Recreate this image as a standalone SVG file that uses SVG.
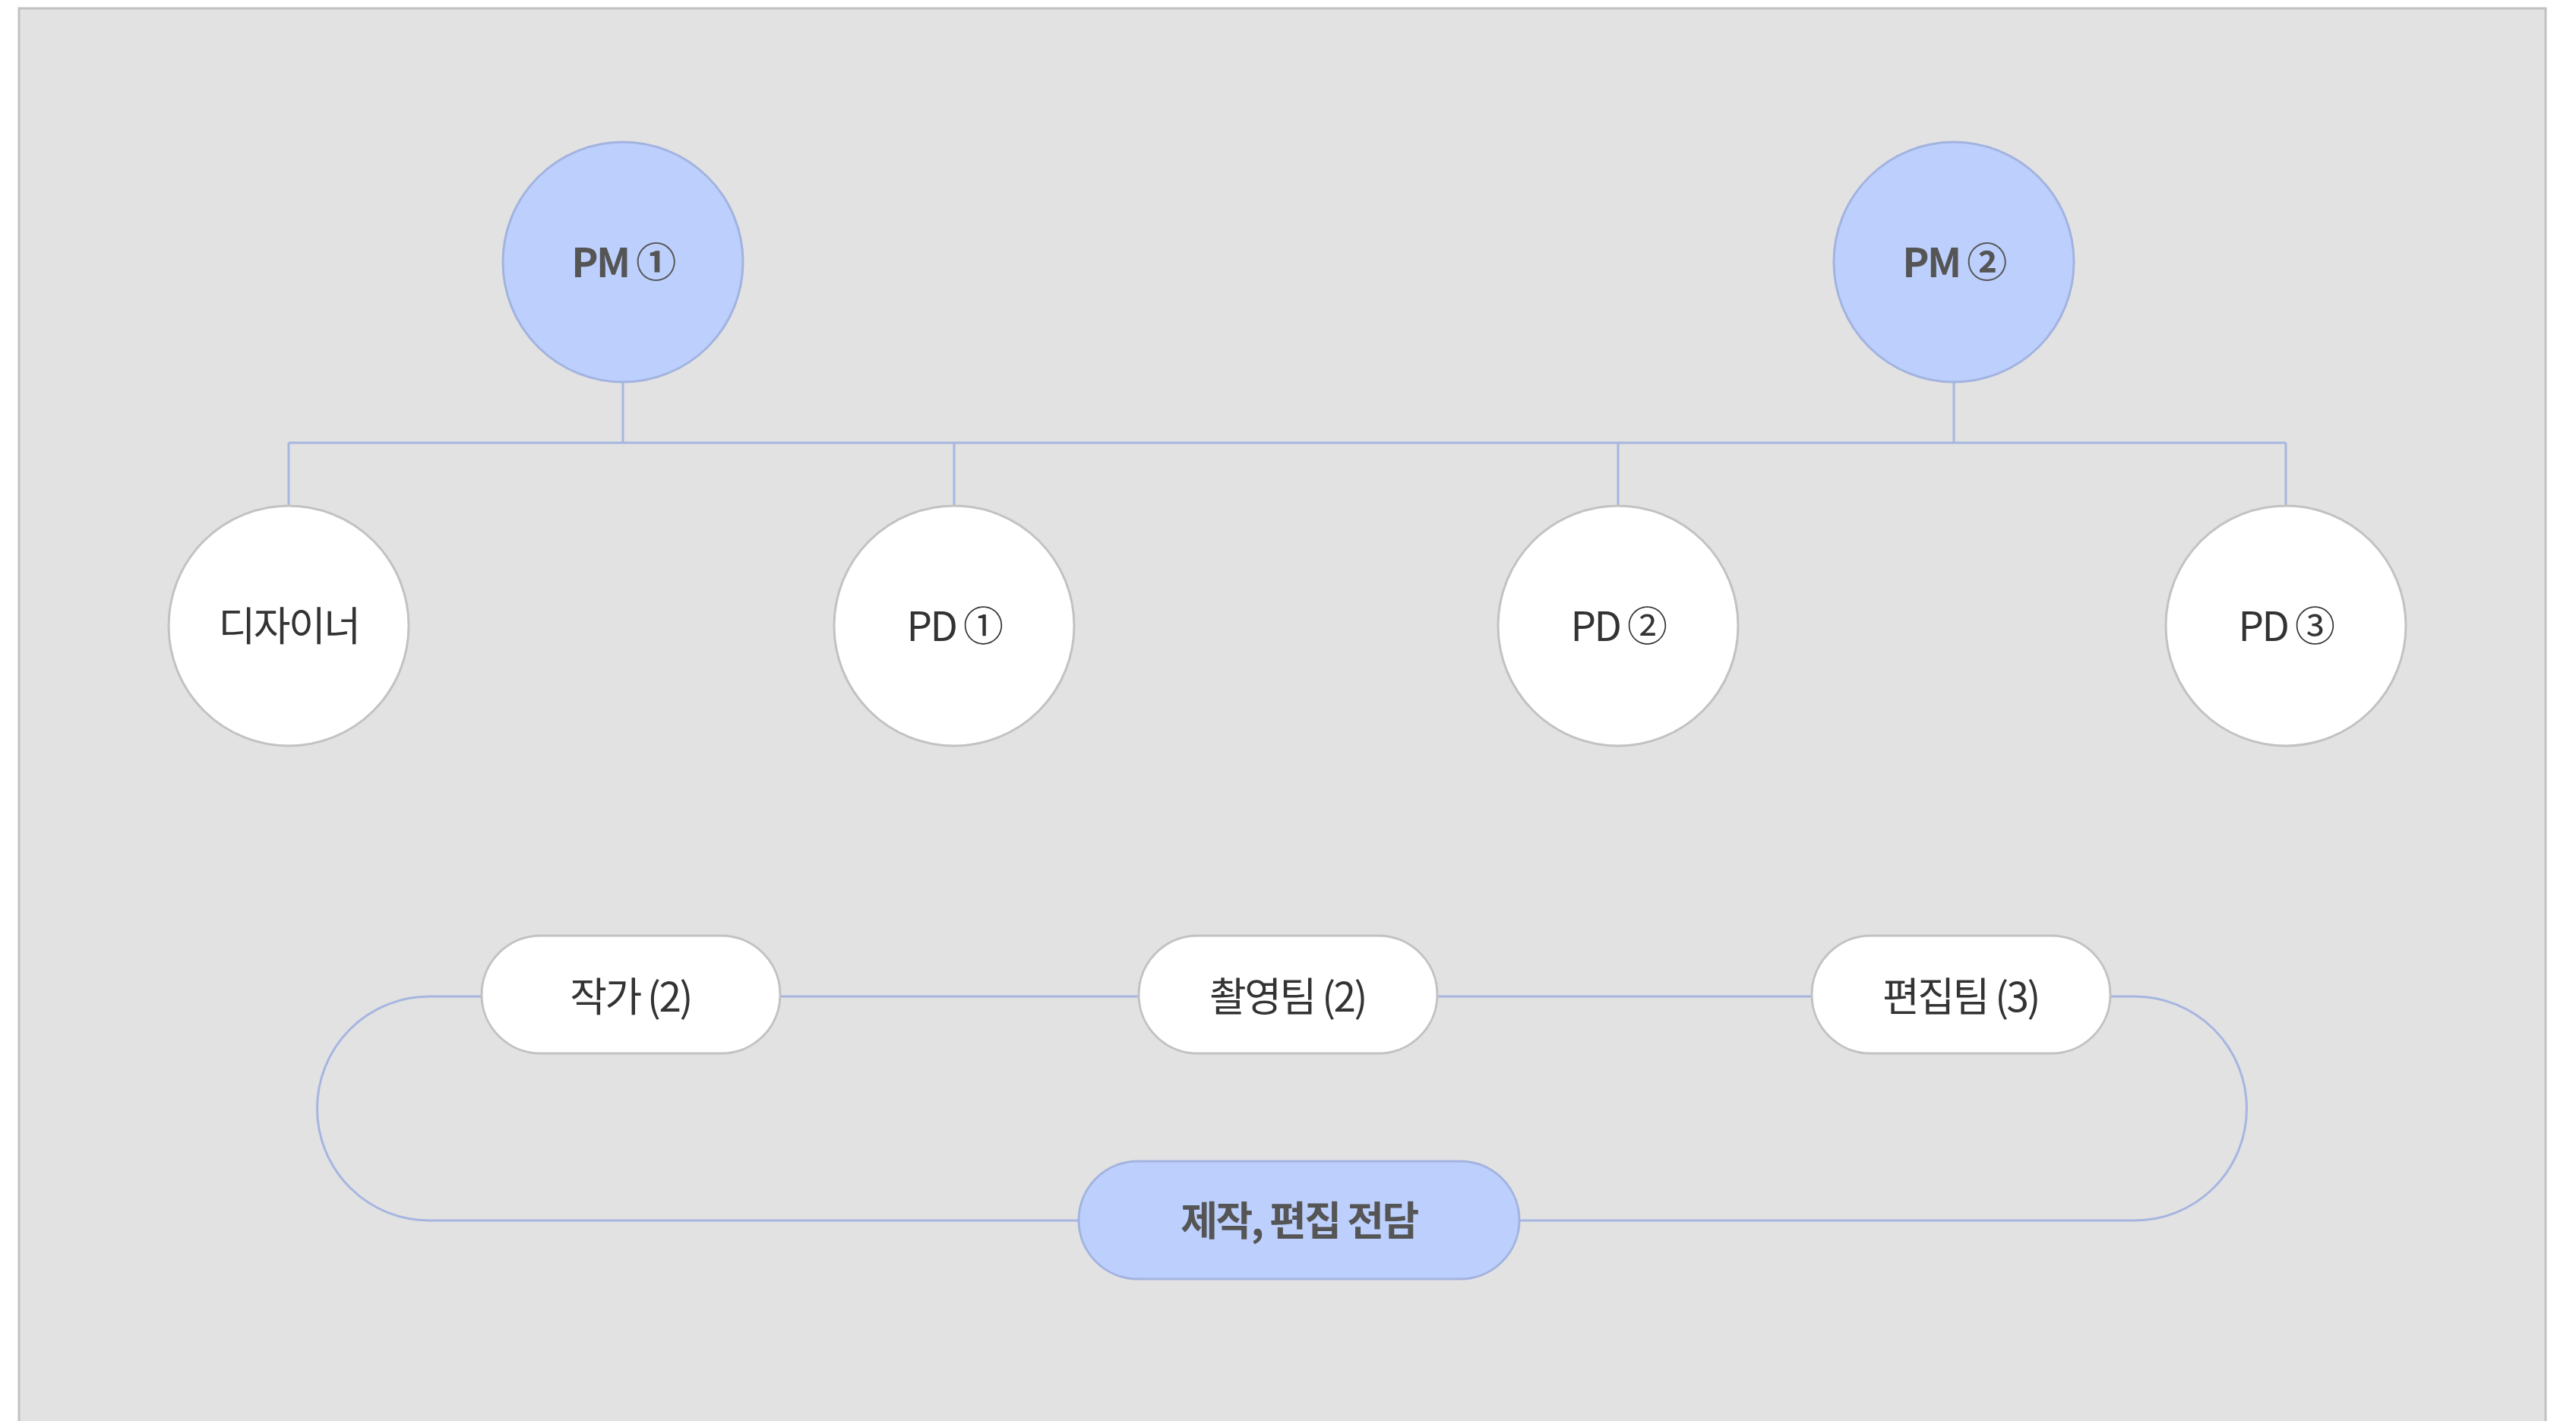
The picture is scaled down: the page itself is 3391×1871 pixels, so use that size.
<svg xmlns="http://www.w3.org/2000/svg" width="3391" height="1871" viewBox="0 0 3391 1871">
<style>
.bg{fill:#e2e2e2;stroke:#c2c2c2;stroke-width:3}
.pm{fill:#bdd0fd;stroke:#a3b3e0;stroke-width:3}
.wn{fill:#ffffff;stroke:#c2c2c2;stroke-width:3}
.cn{fill:none;stroke:#a6b6e0;stroke-width:3}
.t{font-family:"Noto Sans CJK KR","Noto Sans",sans-serif;font-size:53px;text-anchor:middle;dominant-baseline:central;letter-spacing:-2.5px}
.b{font-weight:700;fill:#555555}
.r{font-weight:400;fill:#333333}
</style>
<rect class="bg" x="25" y="11" width="3326" height="1880"/>
<g id="connectors">
<path class="cn" d="M820 502 V583 M2572 502 V583 M380 583 H3009 M380 583 V666 M1256 583 V666 M2130 583 V666 M3009 583 V666"/>
<path class="cn" d="M1027 1312 H1499 M1892 1312 H2385"/>
<path class="cn" d="M634 1312 H565 A147.5 147.5 0 0 0 565 1607 H1420"/>
<path class="cn" d="M2778 1312 H2810 A147.5 147.5 0 0 1 2810 1607 H2000"/>
</g>
<g id="pm1"><circle class="pm" cx="820" cy="345" r="158"/><text class="t b" x="820" y="342">PM ①</text></g>
<g id="pm2"><circle class="pm" cx="2572" cy="345" r="158"/><text class="t b" x="2572" y="342">PM ②</text></g>
<g id="designer"><circle class="wn" cx="380" cy="824" r="158"/><text class="t r" x="380" y="821">디자이너</text></g>
<g id="pd1"><circle class="wn" cx="1256" cy="824" r="158"/><text class="t r" x="1256" y="821">PD ①</text></g>
<g id="pd2"><circle class="wn" cx="2130" cy="824" r="158"/><text class="t r" x="2130" y="821">PD ②</text></g>
<g id="pd3"><circle class="wn" cx="3009" cy="824" r="158"/><text class="t r" x="3009" y="821">PD ③</text></g>
<g id="writer"><rect class="wn" x="634" y="1232" width="393" height="155" rx="77.5"/><text class="t r" x="830" y="1309">작가 (2)</text></g>
<g id="camera"><rect class="wn" x="1499" y="1232" width="393" height="155" rx="77.5"/><text class="t r" x="1695" y="1309">촬영팀 (2)</text></g>
<g id="edit"><rect class="wn" x="2385" y="1232" width="393" height="155" rx="77.5"/><text class="t r" x="2581" y="1309">편집팀 (3)</text></g>
<g id="dedicated"><rect class="pm" x="1420" y="1529" width="580" height="155" rx="77.5"/><text class="t b" x="1710" y="1604">제작, 편집 전담</text></g>
</svg>
